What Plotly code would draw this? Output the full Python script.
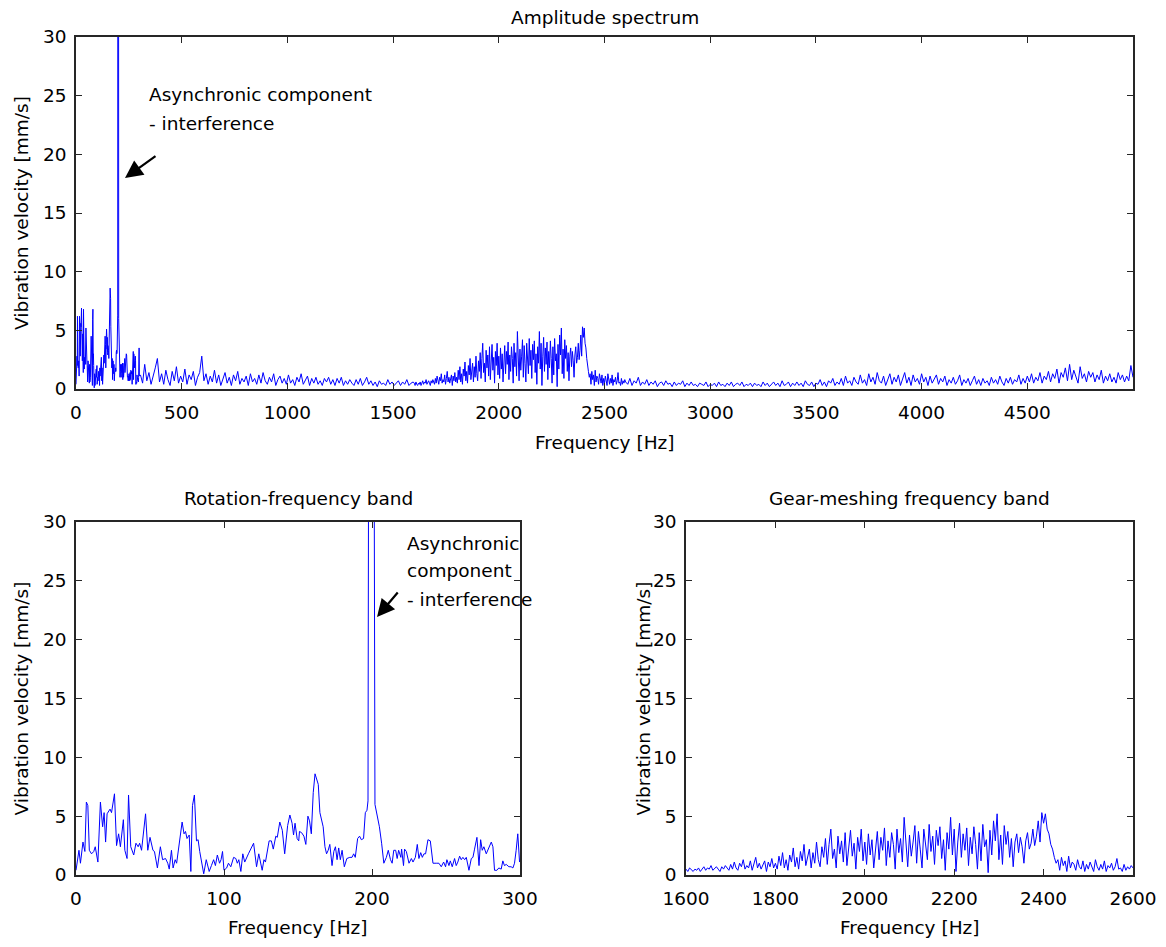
import plotly.graph_objects as go

# ---------------- data ----------------
# Rotation-frequency band (0-300 Hz)
rot_freq = [0,2,3,4.7,6,7,8,9,10.5,12,13,14.8,16.5,18,19,20,21,23,24,26,27.4,28.8,30,32,33,34.5,35.5,37,39,40.5,
            42,43,44.3,47,48.5,50,52,53,55,57,58.5,60.5,62,63,64.5,65.6,67,68,71.7,73,74,75,76.5,77.6,78.7,80,81.4,
            82.5,83.6,85,86.3,88,90,91.5,93,94.2,95.5,97,98,99,100,101.8,103,104.6,106.5,108,109,110,111.4,112.7,114,
            116.5,120,122,123.5,125.8,127,128,130.5,132,133.3,135,136,137.7,139.4,141,143,144.5,146,147,148,149.4,
            150.5,151,152.4,154,155.3,156.7,157.8,159,160.3,161.5,162.6,163.7,164.8,167,168.2,169.3,170.4,171.5,173,
            174.2,175.3,176.4,177.5,178.6,179.8,181.3,183,185,186.5,187.6,188.7,190.3,191.6,192.8,194.3,195.5,196.6,
            197.3,198,201,202,203.7,205,206.5,208,209.7,211,212.5,213.6,214.7,216,217,218,219.5,220,221.3,222,223.2,
            225,226.6,227.7,229.3,230.6,231.7,232.9,234,235.1,236.2,237.8,239.4,241.2,243.4,245.2,246.8,248.4,249.7,
            250.6,252,252.9,254.2,255.8,256.9,258,259.2,260.3,261.4,262.6,263.7,265.5,267.1,268.2,269.3,270.9,272.3,
            273.4,274.5,275.6,277.2,278.8,280.6,281.7,282.8,284.4,285.7,287.3,288.4,289.5,290.7,292.5,294,295.2,296.3,
            297.4,298.5,299.7]
rot_amp = [0.4,2.1,1.0,2.8,2.0,6.2,5.9,2.1,1.8,2.0,2.4,1.1,6.2,4.1,5.3,2.8,5.2,5.6,5.3,6.9,2.5,3.5,2.4,4.7,2.1,1.4,6.8,
           2.4,1.7,2.7,2.4,2.7,2.1,5.2,2.1,3.2,2.1,2.0,0.6,2.4,1.3,1.4,1.0,0.5,2.1,0.6,1.3,1.0,4.5,3.5,3.7,3.1,3.4,0.3,
           5.9,6.8,2.9,3.0,2.0,1.0,0.1,1.3,0.3,0.8,1.3,0.8,1.7,1.0,1.3,2.0,0.4,0.6,1.0,0.7,1.5,1.4,1.0,1.3,0.3,1.8,1.1,
           1.8,2.7,0.7,1.8,0.4,1.3,1.1,2.9,2.9,2.2,3.3,3.2,4.5,3.8,1.8,4.2,5.1,4.4,3.4,4.4,3.1,2.9,3.7,3.6,3.3,2.6,5.0,
           4.6,3.5,7.0,8.6,8.1,7.7,5.3,4.1,2.4,1.8,2.1,2.6,0.8,2.0,2.4,1.3,2.3,1.3,2.1,0.7,1.4,1.5,1.5,1.8,1.5,3.1,3.3,
           3.0,3.1,5.3,5.5,6.3,60,60,6.0,4.9,4.1,2.7,1.0,1.5,2.1,1.3,1.0,2.1,2.1,1.4,2.1,1.5,2.2,0.8,2.2,2.0,1.0,1.4,1.1,
           1.5,2.6,1.4,1.9,1.5,1.8,1.8,3.0,2.9,1.0,1.0,1.0,0.7,1.1,0.7,1.3,0.8,1.2,0.7,1.4,0.8,1.1,1.6,1.3,1.5,1.3,1.5,
           0.4,1.4,1.5,2.2,3.2,0.8,3.0,2.1,2.4,1.8,2.3,2.8,2.4,0.4,0.4,0.6,0.5,1.2,0.8,0.9,0.7,0.7,0.6,1.0,2.1,3.5,1.1]

# 300-1600 Hz, 10 Hz bins starting at 305 Hz
mid_start, mid_step = 305, 10
mid_amp = [1.2,0.5,2.1,0.7,1.4,0.4,1.0,1.8,2.6,0.6,
           1.3,0.4,1.6,0.8,0.3,1.5,0.7,1.9,0.5,1.1,
           0.6,1.7,0.4,1.2,0.8,1.5,0.3,1.0,1.4,2.8,
           0.7,1.3,0.4,1.1,0.6,1.6,0.5,1.2,0.3,0.9,
           1.4,0.5,1.0,0.3,1.2,0.7,1.5,0.4,0.9,0.6,
           1.1,0.3,1.3,0.6,0.9,0.4,1.2,0.5,1.4,0.7,
           0.4,1.0,0.6,1.3,0.3,0.8,1.1,0.5,0.9,0.4,
           1.2,0.5,0.8,0.3,1.0,0.6,1.3,0.4,0.7,1.1,
           0.3,0.9,0.5,1.0,0.4,0.7,0.3,0.9,0.6,1.0,
           0.4,0.8,0.3,0.9,0.5,1.0,0.3,0.7,0.4,0.8,
           0.5,0.3,0.8,0.4,0.9,0.3,0.6,1.0,0.4,0.7,
           0.3,0.6,0.2,0.7,0.4,0.5,0.3,0.8,0.4,0.6,
           0.3,0.5,0.7,0.3,0.6,0.4,0.8,0.3,0.5,0.6]

# Gear-meshing frequency band, 4 Hz bins from 1600 Hz to 2600 Hz
gear_start, gear_step = 1600, 4
gear_amp = [0.5,0.3,0.6,0.4,0.3,0.5,0.4,0.6,0.3,0.5,0.7,0.4,0.6,0.5,0.8,0.4,0.6,0.7,0.5,0.3,0.7,0.5,0.8,0.6,0.4,
            0.9,0.5,1.1,0.6,0.4,1.0,0.7,1.3,0.5,0.8,0.6,1.2,0.4,0.9,1.5,0.6,1.0,0.5,0.8,1.2,0.3,1.1,0.7,1.4,0.6,
            1.0,0.5,1.6,0.8,1.9,0.6,1.3,0.4,1.7,1.1,2.3,0.7,1.5,0.5,2.0,1.2,2.6,0.8,1.4,2.2,0.6,1.9,1.0,2.8,1.3,
            0.7,2.4,1.5,3.1,0.9,2.6,3.9,1.4,2.2,0.6,3.3,1.8,2.9,1.1,3.6,0.8,2.5,3.8,1.6,2.7,0.5,3.2,2.0,3.9,1.2,
            2.8,0.9,3.5,1.7,3.0,0.6,2.4,3.7,1.3,3.2,2.1,4.0,0.8,2.9,1.5,3.6,2.6,0.5,3.9,1.9,3.1,1.1,4.9,2.3,0.7,
            3.4,1.6,2.8,4.2,1.0,3.7,2.2,0.6,3.9,2.7,1.3,4.3,2.0,3.3,0.9,3.8,2.5,4.1,1.4,3.0,0.4,3.6,2.2,4.9,1.7,
            3.9,0.3,2.8,4.4,1.5,3.5,2.1,4.0,0.8,3.2,1.8,4.1,2.6,0.5,3.6,1.2,4.3,2.4,3.0,0.2,3.8,1.7,4.6,2.9,5.2,
            1.3,3.4,0.9,4.2,2.6,3.7,1.5,3.1,0.7,2.8,3.5,1.9,3.2,2.4,1.0,2.9,3.6,2.2,2.7,3.9,2.5,3.3,4.6,2.8,5.3,
            4.4,5.2,3.9,3.5,2.6,2.2,1.5,1.0,1.3,0.4,1.5,0.8,1.2,0.3,1.6,0.6,1.1,0.9,0.4,1.3,0.7,0.5,1.2,0.3,0.9,
            0.5,1.1,0.6,0.3,1.3,0.7,0.4,0.9,0.5,1.2,0.3,0.8,0.6,1.0,0.4,0.7,1.4,0.5,0.6,0.3,0.9,0.4,0.7,0.5,0.8,
            0.6]

# 2600-5000 Hz, 10 Hz bins starting at 2610 Hz
high_start, high_step = 2610, 10
high_amp = [0.4,0.9,0.3,0.7,0.5,1.0,0.3,0.6,0.4,0.8,
            0.3,0.6,0.4,0.7,0.2,0.5,0.6,0.3,0.7,0.4,
            0.5,0.2,0.6,0.3,0.5,0.4,0.7,0.2,0.5,0.3,
            0.6,0.3,0.4,0.2,0.5,0.4,0.3,0.6,0.2,0.4,
            0.3,0.5,0.2,0.6,0.3,0.4,0.2,0.5,0.3,0.6,
            0.2,0.4,0.5,0.3,0.6,0.2,0.4,0.3,0.5,0.2,
            0.5,0.3,0.4,0.2,0.6,0.3,0.5,0.2,0.4,0.6,
            0.3,0.5,0.2,0.7,0.3,0.4,0.6,0.2,0.5,0.3,
            0.6,0.3,0.5,0.2,0.7,0.4,0.3,0.6,0.2,0.5,
            0.4,0.8,0.3,0.6,0.2,0.7,0.5,0.9,0.3,0.6,
            0.4,0.9,0.3,1.1,0.5,0.7,0.3,1.0,0.6,0.4,
            1.2,0.5,0.8,0.3,1.3,0.6,1.0,0.4,1.4,0.7,
            0.5,1.1,0.3,0.9,1.3,0.4,1.0,0.6,1.2,0.3,
            0.8,1.4,0.5,1.0,0.3,1.2,0.6,0.9,0.4,1.3,
            0.6,1.0,0.3,1.1,0.5,0.8,1.2,0.4,0.9,0.6,
            1.1,0.3,0.8,0.5,1.0,0.4,0.7,1.2,0.3,0.8,
            0.5,0.9,0.3,0.7,1.1,0.4,0.8,0.3,0.9,0.5,
            0.7,0.3,1.0,0.5,0.8,0.4,1.1,0.6,0.3,0.9,
            0.5,1.0,0.4,0.8,0.6,1.2,0.4,0.9,0.5,1.1,
            0.6,1.3,0.5,1.0,0.7,1.4,0.5,1.1,0.8,1.5,
            0.6,1.3,0.9,1.7,0.5,1.4,1.0,1.8,0.7,2.1,
            0.8,1.6,1.1,0.5,1.9,0.9,1.3,0.6,1.5,1.0,
            1.4,0.6,1.2,0.8,1.6,0.5,1.1,0.7,1.3,0.6,
            1.0,0.5,1.4,0.8,1.2,0.6,1.1,0.7,2.0,1.0]

y_ticks = [0, 5, 10, 15, 20, 25, 30]
top_xticks = [0, 500, 1000, 1500, 2000, 2500, 3000, 3500, 4000, 4500]
rot_xticks = [0, 100, 200, 300]
gear_xticks = [1600, 1800, 2000, 2200, 2400, 2600]

titles = ["Amplitude spectrum", "Rotation-frequency band", "Gear-meshing frequency band"]
xlabel = "Frequency [Hz]"
ylabel = "Vibration velocity [mm/s]"

# ---------------- build series ----------------
mid_freq = [mid_start + i * mid_step for i in range(len(mid_amp))]
gear_freq = [gear_start + i * gear_step for i in range(len(gear_amp))]
high_freq = [high_start + i * high_step for i in range(len(high_amp))]
full_freq = rot_freq + mid_freq + gear_freq + high_freq
full_amp = rot_amp + mid_amp + gear_amp + high_amp

W, H = 1166, 947
FONT = "DejaVu Sans, Open Sans, sans-serif"
FS = 18.5
LINE = "#262626"
BLUE = "#0000FF"

def px(x):
    return x / W

def py(y):
    return 1 - y / H

# plot area pixel boxes
top_box = (76, 1133, 37, 389)
bl_box = (76, 520, 522, 875)
br_box = (686, 1133, 522, 875)

fig = go.Figure()
fig.add_trace(go.Scatter(x=full_freq, y=full_amp, mode="lines", line=dict(color=BLUE, width=1),
                         xaxis="x", yaxis="y", showlegend=False, hoverinfo="skip"))
fig.add_trace(go.Scatter(x=rot_freq, y=rot_amp, mode="lines", line=dict(color=BLUE, width=1),
                         xaxis="x2", yaxis="y2", showlegend=False, hoverinfo="skip"))
fig.add_trace(go.Scatter(x=gear_freq, y=gear_amp, mode="lines", line=dict(color=BLUE, width=1),
                         xaxis="x3", yaxis="y3", showlegend=False, hoverinfo="skip"))

def axis_common():
    return dict(showline=True, linecolor=LINE, linewidth=1.5, mirror="ticks", ticks="inside",
                ticklen=6, tickcolor=LINE, tickwidth=1, showgrid=False, zeroline=False,
                automargin=False,
                tickfont=dict(family=FONT, size=FS, color="#000"), fixedrange=True)

def xax(box, rng, ticks, anchor):
    d = axis_common()
    d.update(domain=[px(box[0]), px(box[1])], range=rng, tickmode="array", tickvals=ticks,
             anchor=anchor, ticklabelstandoff=6)
    return d

def yax(box, anchor):
    d = axis_common()
    d.update(domain=[py(box[3]), py(box[2])], range=[0, 30], tickmode="array", tickvals=y_ticks,
             anchor=anchor, ticklabelstandoff=4)
    return d

fig.update_layout(
    width=W, height=H, margin=dict(l=0, r=0, t=0, b=0, autoexpand=False),
    paper_bgcolor="white", plot_bgcolor="white",
    font=dict(family=FONT, size=FS, color="#000"),
    xaxis=xax(top_box, [0, 5000], top_xticks, "y"),
    yaxis=yax(top_box, "x"),
    xaxis2=xax(bl_box, [0, 300], rot_xticks, "y2"),
    yaxis2=yax(bl_box, "x2"),
    xaxis3=xax(br_box, [1600, 2600], gear_xticks, "y3"),
    yaxis3=yax(br_box, "x3"),
)

ann = []
def text(x, y, s, xanchor="center", angle=0):
    ann.append(dict(x=px(x), y=py(y), xref="paper", yref="paper", text=s, showarrow=False,
                    xanchor=xanchor, yanchor="middle", textangle=angle,
                    font=dict(family=FONT, size=FS, color="#000")))

# titles
text((top_box[0] + top_box[1]) / 2, 18, titles[0])
text((bl_box[0] + bl_box[1]) / 2, 498, titles[1])
text((br_box[0] + br_box[1]) / 2, 498, titles[2])
# axis labels
text((top_box[0] + top_box[1]) / 2, 443, xlabel)
text((bl_box[0] + bl_box[1]) / 2, 927, xlabel)
text((br_box[0] + br_box[1]) / 2, 927, xlabel)
text(21, (top_box[2] + top_box[3]) / 2, ylabel, angle=-90)
text(21, (bl_box[2] + bl_box[3]) / 2, ylabel, angle=-90)
text(643, (br_box[2] + br_box[3]) / 2, ylabel, angle=-90)
# callouts
text(147, 94, "Asynchronic component", xanchor="left")
text(147, 123, "- interference", xanchor="left")
text(405, 543, "Asynchronic", xanchor="left")
text(405, 570, "component", xanchor="left")
text(405, 599, "- interference", xanchor="left")

# arrows (head position, tail offset in pixels)
for hx, hy, tx, ty in [(125, 178, 157, 155), (377, 617, 399, 591)]:
    ann.append(dict(x=px(hx), y=py(hy), xref="paper", yref="paper", text="", showarrow=True,
                    ax=tx - hx, ay=ty - hy, axref="pixel", ayref="pixel",
                    arrowhead=2, arrowsize=1.6, arrowwidth=2.2, arrowcolor="#000"))

fig.update_layout(annotations=ann)
fig.write_html("out.html")
